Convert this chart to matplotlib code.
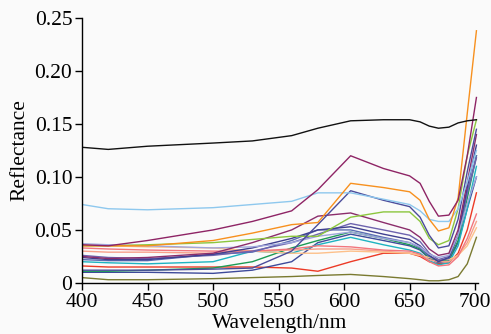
import matplotlib
matplotlib.use("Agg")
import matplotlib.pyplot as plt

wavelength = [400, 420, 450, 500, 530, 560, 580, 605, 630, 650, 658, 665, 672, 680, 687, 694, 701]

black = [0.128, 0.126, 0.129, 0.132, 0.134, 0.139, 0.146, 0.153, 0.154, 0.154, 0.152, 0.148, 0.146, 0.147, 0.151, 0.153, 0.154]
maroon = [0.036, 0.035, 0.040, 0.050, 0.058, 0.068, 0.088, 0.120, 0.108, 0.101, 0.094, 0.077, 0.063, 0.064, 0.078, 0.120, 0.175]
orange = [0.035, 0.035, 0.035, 0.040, 0.047, 0.055, 0.057, 0.094, 0.090, 0.086, 0.078, 0.060, 0.049, 0.052, 0.080, 0.160, 0.238]
light_blue = [0.074, 0.070, 0.069, 0.071, 0.074, 0.077, 0.085, 0.085, 0.079, 0.074, 0.068, 0.060, 0.058, 0.058, 0.070, 0.095, 0.125]
yellow_green = [0.035, 0.035, 0.036, 0.038, 0.041, 0.044, 0.044, 0.062, 0.067, 0.067, 0.058, 0.042, 0.036, 0.040, 0.070, 0.120, 0.154]
navy1 = [0.012, 0.012, 0.012, 0.013, 0.014, 0.030, 0.055, 0.087, 0.078, 0.072, 0.062, 0.045, 0.033, 0.035, 0.060, 0.105, 0.145]
maroon2 = [0.025, 0.023, 0.024, 0.028, 0.038, 0.050, 0.063, 0.066, 0.057, 0.050, 0.043, 0.032, 0.026, 0.028, 0.050, 0.095, 0.140]
navy2 = [0.024, 0.022, 0.022, 0.027, 0.033, 0.042, 0.050, 0.053, 0.046, 0.041, 0.035, 0.026, 0.020, 0.024, 0.045, 0.090, 0.130]
purple = [0.026, 0.024, 0.023, 0.026, 0.030, 0.038, 0.046, 0.056, 0.050, 0.045, 0.039, 0.028, 0.022, 0.025, 0.045, 0.085, 0.118]
green = [0.011, 0.011, 0.012, 0.014, 0.020, 0.033, 0.040, 0.048, 0.042, 0.036, 0.032, 0.024, 0.020, 0.022, 0.040, 0.080, 0.120]
teal = [0.020, 0.019, 0.018, 0.020, 0.030, 0.028, 0.036, 0.043, 0.036, 0.031, 0.028, 0.021, 0.017, 0.019, 0.035, 0.070, 0.110]
red = [0.016, 0.015, 0.015, 0.015, 0.015, 0.014, 0.011, 0.020, 0.028, 0.028, 0.025, 0.020, 0.018, 0.019, 0.028, 0.050, 0.085]
pink = [0.033, 0.032, 0.031, 0.030, 0.030, 0.032, 0.035, 0.034, 0.031, 0.030, 0.027, 0.020, 0.016, 0.017, 0.025, 0.042, 0.065]
salmon = [0.030, 0.029, 0.029, 0.028, 0.030, 0.031, 0.032, 0.032, 0.030, 0.028, 0.026, 0.022, 0.020, 0.020, 0.026, 0.038, 0.058]
light_orange = [0.036, 0.035, 0.034, 0.033, 0.030, 0.028, 0.028, 0.030, 0.029, 0.028, 0.026, 0.024, 0.022, 0.022, 0.026, 0.035, 0.052]
olive = [0.005, 0.003, 0.003, 0.004, 0.005, 0.006, 0.007, 0.008, 0.006, 0.004, 0.003, 0.002, 0.002, 0.003, 0.006, 0.018, 0.043]
periwinkle = [0.037, 0.036, 0.035, 0.033, 0.034, 0.038, 0.044, 0.048, 0.042, 0.038, 0.034, 0.027, 0.024, 0.026, 0.045, 0.075, 0.100]
medium_blue = [0.022, 0.021, 0.021, 0.027, 0.029, 0.040, 0.050, 0.050, 0.043, 0.038, 0.033, 0.025, 0.021, 0.023, 0.045, 0.085, 0.120]
navy3 = [0.010, 0.010, 0.010, 0.009, 0.012, 0.020, 0.038, 0.046, 0.040, 0.035, 0.031, 0.023, 0.019, 0.021, 0.038, 0.070, 0.100]

series = [
    (olive, "#7a7a30"), (red, "#ec3a26"), (navy3, "#3e4a9a"), (green, "#1c9a55"),
    (teal, "#1eb3c1"), (salmon, "#f7a08a"), (light_orange, "#fdc08a"), (pink, "#f2757d"),
    (medium_blue, "#5b6db3"), (purple, "#6d63ae"), (navy2, "#3f3f8f"), (periwinkle, "#9fa6db"),
    (maroon2, "#8b2d6b"), (yellow_green, "#8cc63e"), (navy1, "#4b4c9b"), (light_blue, "#8ec8ee"),
    (orange, "#f7901e"), (maroon, "#8e2465"), (black, "#111111"),
]

y_ticks = [0, 0.05, 0.10, 0.15, 0.20, 0.25]
y_tick_labels = ["0", "0.05", "0.10", "0.15", "0.20", "0.25"]
x_ticks = [400, 450, 500, 550, 600, 650, 700]

plt.rcParams["font.family"] = ["Liberation Serif", "DejaVu Serif"]

fig = plt.figure(figsize=(4.91, 3.34), dpi=100, facecolor="#fafafa")
ax = fig.add_axes([0.167, 0.153, 0.806, 0.793])
ax.set_facecolor("#fafafa")

for vals, col in series:
    ax.plot(wavelength, vals, color=col, lw=1.0)

ax.set_xlim(400, 702)
ax.set_ylim(0, 0.25)
ax.set_xticks(x_ticks)
ax.set_yticks(y_ticks)
ax.set_yticklabels(y_tick_labels)
for s in ["top", "right"]:
    ax.spines[s].set_visible(False)
ax.spines["left"].set_linewidth(1.0)
ax.spines["bottom"].set_linewidth(1.0)
ax.tick_params(direction="out", length=5, width=1.0, labelsize=15.5, pad=2)
ax.set_xlabel("Wavelength/nm", fontsize=15.5, labelpad=2)
ax.set_ylabel("Reflectance", fontsize=15.5, labelpad=4)

fig.savefig("out.png", dpi=100, facecolor=fig.get_facecolor())
